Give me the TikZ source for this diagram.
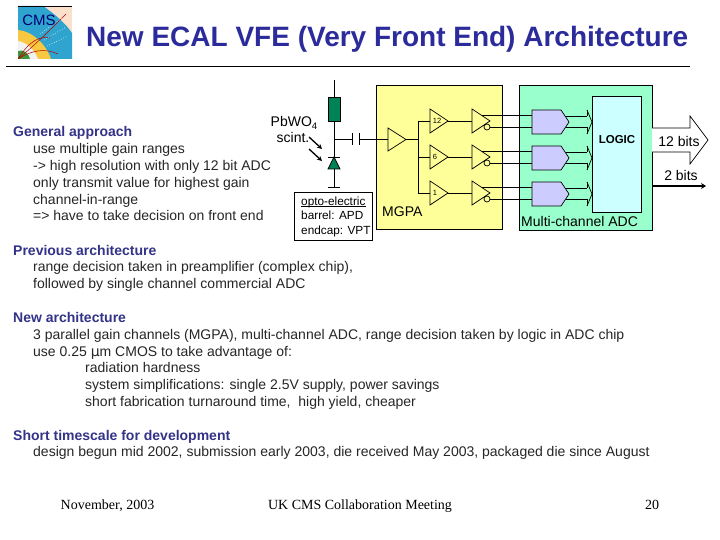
\documentclass[tikz,border=0pt]{standalone}
\usepackage{fontspec}
\setmainfont{Liberation Sans}
\newfontfamily\footfont{Liberation Serif}
\newfontfamily\symfont{DejaVu Sans}
\usetikzlibrary{arrows.meta}
\definecolor{titleblue}{HTML}{2B2B9B}
\definecolor{headblue}{HTML}{333388}
\definecolor{yel}{HTML}{FFFF99}
\definecolor{mint}{HTML}{99FFCC}
\definecolor{ice}{HTML}{CCFFFF}
\definecolor{lav}{HTML}{CCCCFF}
\definecolor{teal}{HTML}{009966}
\definecolor{logosky}{HTML}{2FA4CF}
\definecolor{logopeach}{HTML}{FBE0CC}
\definecolor{logoyel}{HTML}{F8C840}
\tikzset{
 x=1pt,y=-1pt,
 wire/.style={draw=black,line width=0.7pt},
 bodytext/.style={anchor=base west,inner sep=0pt,text=black!85,font=\fontsize{14}{16}\selectfont},
 headtext/.style={anchor=base west,inner sep=0pt,text=headblue,font=\bfseries\fontsize{14}{16}\selectfont},
 foot/.style={anchor=base,inner sep=0pt,font=\footfont\fontsize{14}{16}\selectfont},
 panel/.style={draw=black,line width=0.7pt},
 diag/.style={inner sep=0pt,text=black,font=\fontsize{14}{16}\selectfont},
 optotext/.style={inner sep=0pt,text=black,anchor=base west,font=\fontsize{11.8}{14}\selectfont},
 tiny/.style={inner sep=0pt,text=black,font=\fontsize{7.5}{9}\selectfont},
 opening/.style={line width=0.7pt,draw=black,fill=yel},
}
\newcommand{\amplifier}[4]{% name, left x, centre y, half height
  \draw[opening] (#2,#3-#4) coordinate (#1a) -- (#2+18,#3) coordinate (#1t) -- (#2,#3+#4) -- cycle;
  \coordinate (#1l) at (#2,#3);}
\newcommand{\adcblock}[2]{% name, y
  \draw[wire,fill=lav] (532,#2-12) -- (561,#2-12) -- (569,#2) -- (561,#2+12) -- (532,#2+12) -- cycle;
  \coordinate (#1o1) at (566,#2-6);
  \coordinate (#1o2) at (566,#2+5);
  \draw[wire] (#1o1) -- (587,#2-6);
  \draw[wire] (#1o2) -- (587,#2+5);
  \draw[wire] (587,#2-12) -- (592,#2) -- (587,#2+12);
  \draw[wire] (587,#2-12) -- (587,#2-6);
  \draw[wire] (587,#2+5) -- (587,#2+12);}
\begin{document}
\begin{tikzpicture}
\useasboundingbox (0,0) rectangle (720,540);
\fill[white] (0,0) rectangle (720,540);
% logo
\begin{scope}
 \clip (18,6) rectangle (72,59);
 \fill[logopeach] (18,6) rectangle (72,59);
 \fill[logosky] (18,6) -- (43,6) .. controls (55,14) and (66,24) .. (72,33) -- (72,59) -- (18,59) -- cycle;
 \fill[logoyel] (18,30) .. controls (32,31) and (46,44) .. (51,59) -- (18,59) -- cycle;
 \fill[gray!10] (18,41) .. controls (26,42) and (35,50) .. (38,59) -- (18,59) -- cycle;
 \fill[green!45!black!75] (18,59) -- (18,51) .. controls (23,49) and (29,53) .. (30,59) -- cycle;
 \draw[red!70!black,line width=0.5pt] (18,59) .. controls (35,45) and (50,30) .. (66,14);
 \draw[red!70!black,line width=0.5pt] (18,59) .. controls (32,50) and (45,48) .. (58,54);
 \draw[red!70!black,line width=0.5pt] (18,59) .. controls (30,40) and (40,36) .. (50,38);
 \draw[white,dotted,line width=0.6pt] (44,40) -- (66,27);
 \draw[white,dotted,line width=0.6pt] (47,46) -- (68,36);
 \draw[white,dotted,line width=0.6pt] (40,34) -- (62,18);
\end{scope}
\draw[black,line width=0.6pt] (18,6) -- (72,6);
\node[anchor=center,inner sep=0pt,text=blue!45!black,font=\fontsize{15}{15}\selectfont] (logotext) at (39,20) {CMS};
% title
\node[anchor=base west,inner sep=0pt,text=titleblue,font=\bfseries\fontsize{28}{32}\selectfont] (title) at (86,46.5) {New ECAL VFE (Very Front End) Architecture};
\draw[black,line width=0.7pt] (6,66) -- (690,66);
% left text
\node[headtext] (t1) at (13,137) {General approach};
\node[bodytext] (t2) at (33,154) {use multiple gain ranges};
\node[bodytext] (t3) at (33,171) {-> high resolution with only 12 bit ADC};
\node[bodytext] (t4) at (33,188) {only transmit value for highest gain};
\node[bodytext] (t5) at (33,204.5) {channel-in-range};
\node[bodytext] (t6) at (33,221) {=> have to take decision on front end};
\node[headtext] (t7) at (13,255) {Previous architecture};
\node[bodytext] (t8) at (33,271.5) {range decision taken in preamplifier (complex chip),};
\node[bodytext] (t9) at (33,288) {followed by single channel commercial ADC};
\node[headtext] (t10) at (13,322) {New architecture};
\node[bodytext] (t11) at (33,339) {3 parallel gain channels (MGPA), multi-channel ADC, range decision taken by logic in ADC chip};
\node[bodytext] (t12) at (33,356) {use 0.25 {\symfont μ}m CMOS to take advantage of:};
\node[bodytext] (t13) at (85,372.5) {radiation hardness};
\node[bodytext] (t14) at (85,389.5) {system simplifications: single 2.5V supply, power savings};
\node[bodytext] (t15) at (85,406) {short fabrication turnaround time,\ \ high yield, cheaper};
\node[headtext] (t16) at (13,440) {Short timescale for development};
\node[bodytext] (t17) at (33,456.5) {design begun mid 2002, submission early 2003, die received May 2003, packaged die since August};
% footer
\node[foot] (f1) at (107.5,509) {November, 2003};
\node[foot] (f2) at (360,509) {UK CMS Collaboration Meeting};
\node[foot] (f3) at (652,509) {20};
% panels
\draw[panel,fill=yel] (376,85) rectangle (502,229);
\draw[panel,fill=mint] (519,85) rectangle (652,230);
\draw[panel,fill=ice] (592,96) rectangle (641,212);
\node[inner sep=0pt,font=\bfseries\fontsize{11.5}{13}\selectfont] (logic) at (617,140) {LOGIC};
\node[diag,anchor=base west] (mgpa) at (382,216) {MGPA};
\node[diag,anchor=base west] (mca) at (521,226) {Multi-channel ADC};
% sensor
\coordinate (top) at (334,80);
\coordinate (junc) at (334,139.5);
\coordinate (gnd) at (334,187);
\draw[wire] (top) -- (gnd);
\draw[wire] (328,187) -- (340,187);
\draw[wire,fill=teal!85!black] (328,97) rectangle (340,121);
\draw[wire,fill=teal!85!black] (328,169) -- (340,169) -- (334,157) -- cycle;
\draw[wire] (328,157) -- (340,157);
\draw[black,line width=1.3pt,-{Stealth[length=5pt,width=5pt]}] (309,137) -- (322,149);
\draw[black,line width=1.3pt,-{Stealth[length=5pt,width=5pt]}] (309,149) -- (322,161);
\node[diag,anchor=base] (pbwo) at (294,127) {PbWO\raisebox{-3pt}{\fontsize{9.5}{10}\selectfont 4}};
\node[diag,anchor=base] (scint) at (293,143) {scint.};
% capacitor and amplifier
\draw[wire] (junc) -- (352,139.5);
\draw[wire] (352,133) -- (352,145);
\draw[wire] (359,133) -- (359,145);
\draw[wire] (359,139.5) -- (388,139.5);
\amplifier{pre}{388}{139.5}{11.5}
\coordinate (bus) at (418,139.5);
\draw[wire] (pret) -- (bus);
\draw[wire] (418,121) -- (418,193);
% gain stages
\amplifier{g1}{430}{121}{12}
\amplifier{g2}{430}{157}{12}
\amplifier{g3}{430}{193}{12}
\draw[wire] (418,121) -- (g1l);
\draw[wire] (418,157) -- (g2l);
\draw[wire] (418,193) -- (g3l);
\node[tiny] (n12) at (437,121) {12};
\node[tiny] (n6) at (435,157) {6};
\node[tiny] (n1) at (435,193) {1};
% drivers
\amplifier{d1}{472}{121}{12}
\amplifier{d2}{472}{157}{12}
\amplifier{d3}{472}{193}{12}
\draw[wire] (g1t) -- (d1l);
\draw[wire] (g2t) -- (d2l);
\draw[wire] (g3t) -- (d3l);
\foreach \yy in {121,157,193}{
 \draw[wire] (482,\yy-6) -- (532,\yy-6);
 \draw[wire] (490,\yy+6) -- (532,\yy+6);
 \draw[wire,fill=yel] (487,\yy+6) circle (3);
}
% ADC
\adcblock{a1}{122}
\adcblock{a2}{158}
\adcblock{a3}{194}
% outputs
\draw[wire,fill=white] (652,128) -- (690,128) -- (690,116) -- (708,140) -- (690,164) -- (690,152) -- (652,152);
\node[diag] (b12) at (679,141) {12 bits};
\node[diag] (b2) at (681,175) {2 bits};
\draw[black,line width=1.5pt,-{Stealth[length=5pt,width=6pt]}] (652,186) -- (706,186);
% opto box
\node[draw=black,line width=0.7pt,fill=white,minimum width=78pt,minimum height=48pt,inner sep=0pt] (opto) at (333,216) {};
\node[optotext] (o1) at (301,205.5) {opto-electric};
\draw[black,line width=0.8pt] (o1.base west) ++(0,1) -- ++(65,0);
\node[optotext] (o2) at (301,219.5) {barrel: APD};
\node[optotext] (o3) at (301,235) {endcap: VPT};
\end{tikzpicture}
\end{document}
